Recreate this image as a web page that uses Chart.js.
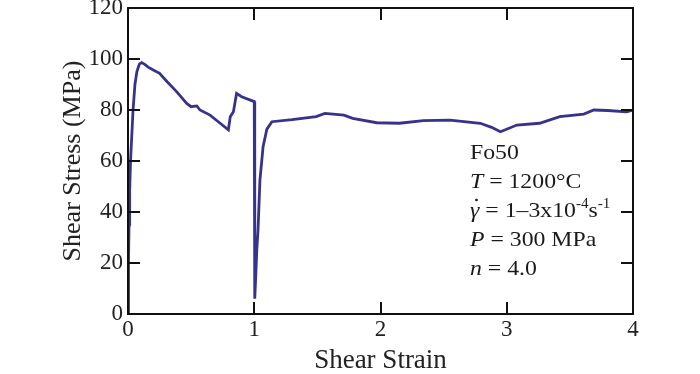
<!DOCTYPE html>
<html>
<head>
<meta charset="utf-8">
<script src="https://cdn.jsdelivr.net/npm/chart.js@4.4.0/dist/chart.umd.min.js"></script>
<style>
  html, body { margin: 0; padding: 0; background: #fff; }
  #wrap { width: 700px; height: 374px; position: relative; }
</style>
</head>
<body>
<div id="wrap"><canvas id="c"></canvas></div>
<script>
// shear strain (x) and shear stress in MPa (y)
const strain = [0, 0.004, 0.008, 0.013, 0.02, 0.03, 0.04, 0.055, 0.07, 0.09, 0.108, 0.13, 0.16,
  0.2, 0.25, 0.31, 0.385, 0.465, 0.5, 0.545, 0.57, 0.65, 0.73, 0.795, 0.81, 0.835, 0.86, 0.9, 1.0,
  1.004, 1.012, 1.02, 1.03, 1.045, 1.07, 1.1, 1.14, 1.3, 1.49, 1.56, 1.71, 1.78, 1.97, 2.15, 2.34,
  2.55, 2.79, 2.88, 2.95, 3.08, 3.26, 3.42, 3.61, 3.69, 3.8, 3.95, 4.0];
const stress = [0, 20, 35, 48, 60, 70, 80, 90, 95, 98, 98.6, 98, 96.8,
  95.7, 94.4, 91.1, 87.2, 82.6, 81.3, 81.6, 80, 78, 74.8, 72.2, 77.4, 79.3, 86.5, 85.2, 83.3,
  6, 15, 25, 33, 52.5, 65.6, 72.5, 75.4, 76.2, 77.4, 78.7, 78, 76.7, 75, 74.8, 75.8,
  76, 74.8, 73.2, 71.5, 74.1, 74.8, 77.4, 78.4, 80, 79.8, 79.3, 80];

const xTicks = [0, 1, 2, 3, 4];
const yTicks = [0, 20, 40, 60, 80, 100, 120];

const SERIF = '"Liberation Serif", "DejaVu Serif", serif';
const LINE_COLOR = '#37338c';

// inward ticks on all four sides + frame
const framePlugin = {
    id: 'frame',
    afterDraw(chart) {
        const { ctx, chartArea: a, scales } = chart;
        const len = 12;
        ctx.save();
        ctx.strokeStyle = '#111';
        ctx.lineWidth = 2;
        ctx.beginPath();
        yTicks.forEach(v => {
            const y = Math.round(scales.y.getPixelForValue(v));
            ctx.moveTo(a.left, y); ctx.lineTo(a.left + len, y);
            ctx.moveTo(a.right, y); ctx.lineTo(a.right - len, y);
        });
        xTicks.forEach(v => {
            const x = Math.round(scales.x.getPixelForValue(v));
            ctx.moveTo(x, a.bottom); ctx.lineTo(x, a.bottom - len);
            ctx.moveTo(x, a.top); ctx.lineTo(x, a.top + len);
        });
        ctx.stroke();
        ctx.strokeRect(a.left, a.top, a.right - a.left, a.bottom - a.top);
        ctx.restore();
    }
};

// experiment conditions text block
const notePlugin = {
    id: 'note',
    afterDraw(chart) {
        const ctx = chart.ctx;
        const x0 = 470;
        const size = 22;
        const norm = size + 'px ' + SERIF;
        const ital = 'italic ' + size + 'px ' + SERIF;
        const sup = '14px ' + SERIF;
        ctx.save();
        ctx.fillStyle = '#1a1a1a';
        ctx.textBaseline = 'alphabetic';
        ctx.translate(x0, 0);
        ctx.scale(1.08, 1);

        function run(parts, y) {
            let x = 0;
            parts.forEach(p => {
                ctx.font = p[1];
                ctx.fillText(p[0], x, y + (p[2] || 0));
                x += ctx.measureText(p[0]).width;
            });
        }
        run([['Fo50', norm]], 159);
        run([['T', ital], [' = 1200°C', norm]], 188);
        run([['γ', ital], [' = 1–3x10', norm], ['-4', sup, -9], ['s', norm], ['-1', sup, -9]], 217);
        // dot over gamma
        ctx.beginPath();
        ctx.arc(6, 200, 1.3, 0, Math.PI * 2);
        ctx.fill();
        run([['P', ital], [' = 300 MPa', norm]], 246);
        run([['n', ital], [' = 4.0', norm]], 275);
        ctx.restore();
    }
};

new Chart(document.getElementById('c'), {
    type: 'scatter',
    data: {
        datasets: [{
            data: strain.map((s, i) => ({ x: s, y: stress[i] })),
            showLine: true,
            borderColor: LINE_COLOR,
            backgroundColor: LINE_COLOR,
            borderWidth: 2.8,
            pointRadius: 0,
            tension: 0
        }]
    },
    options: {
        responsive: true,
        maintainAspectRatio: false,
        animation: false,
        layout: { padding: { left: 0, right: 67, top: 8, bottom: 0 } },
        plugins: { legend: { display: false }, tooltip: { enabled: false } },
        scales: {
            x: {
                type: 'linear',
                min: 0, max: 4,
                afterBuildTicks: s => { s.ticks = xTicks.map(v => ({ value: v })); },
                afterFit: s => { s.height = 60; s.paddingLeft = 0; s.paddingRight = 0; },
                grid: { display: false, drawTicks: false },
                border: { display: false },
                ticks: { color: '#222', font: { family: SERIF, size: 23 }, padding: 2 },
                title: {
                    display: true, text: 'Shear Strain', color: '#222',
                    font: { family: SERIF, size: 27, lineHeight: 1 }, padding: { top: 0, bottom: 0 }
                }
            },
            y: {
                type: 'linear',
                min: 0, max: 120,
                afterBuildTicks: s => { s.ticks = yTicks.map(v => ({ value: v })); },
                afterFit: s => { s.width = 128; s.paddingTop = 0; s.paddingBottom = 0; },
                grid: { display: false, drawTicks: false },
                border: { display: false },
                ticks: { color: '#222', font: { family: SERIF, size: 23 }, padding: 5 },
                title: {
                    display: true, text: 'Shear Stress (MPa)', color: '#222',
                    font: { family: SERIF, size: 26 }, padding: { top: 58, bottom: 0 }
                }
            }
        }
    },
    plugins: [framePlugin, notePlugin]
});
</script>
</body>
</html>
